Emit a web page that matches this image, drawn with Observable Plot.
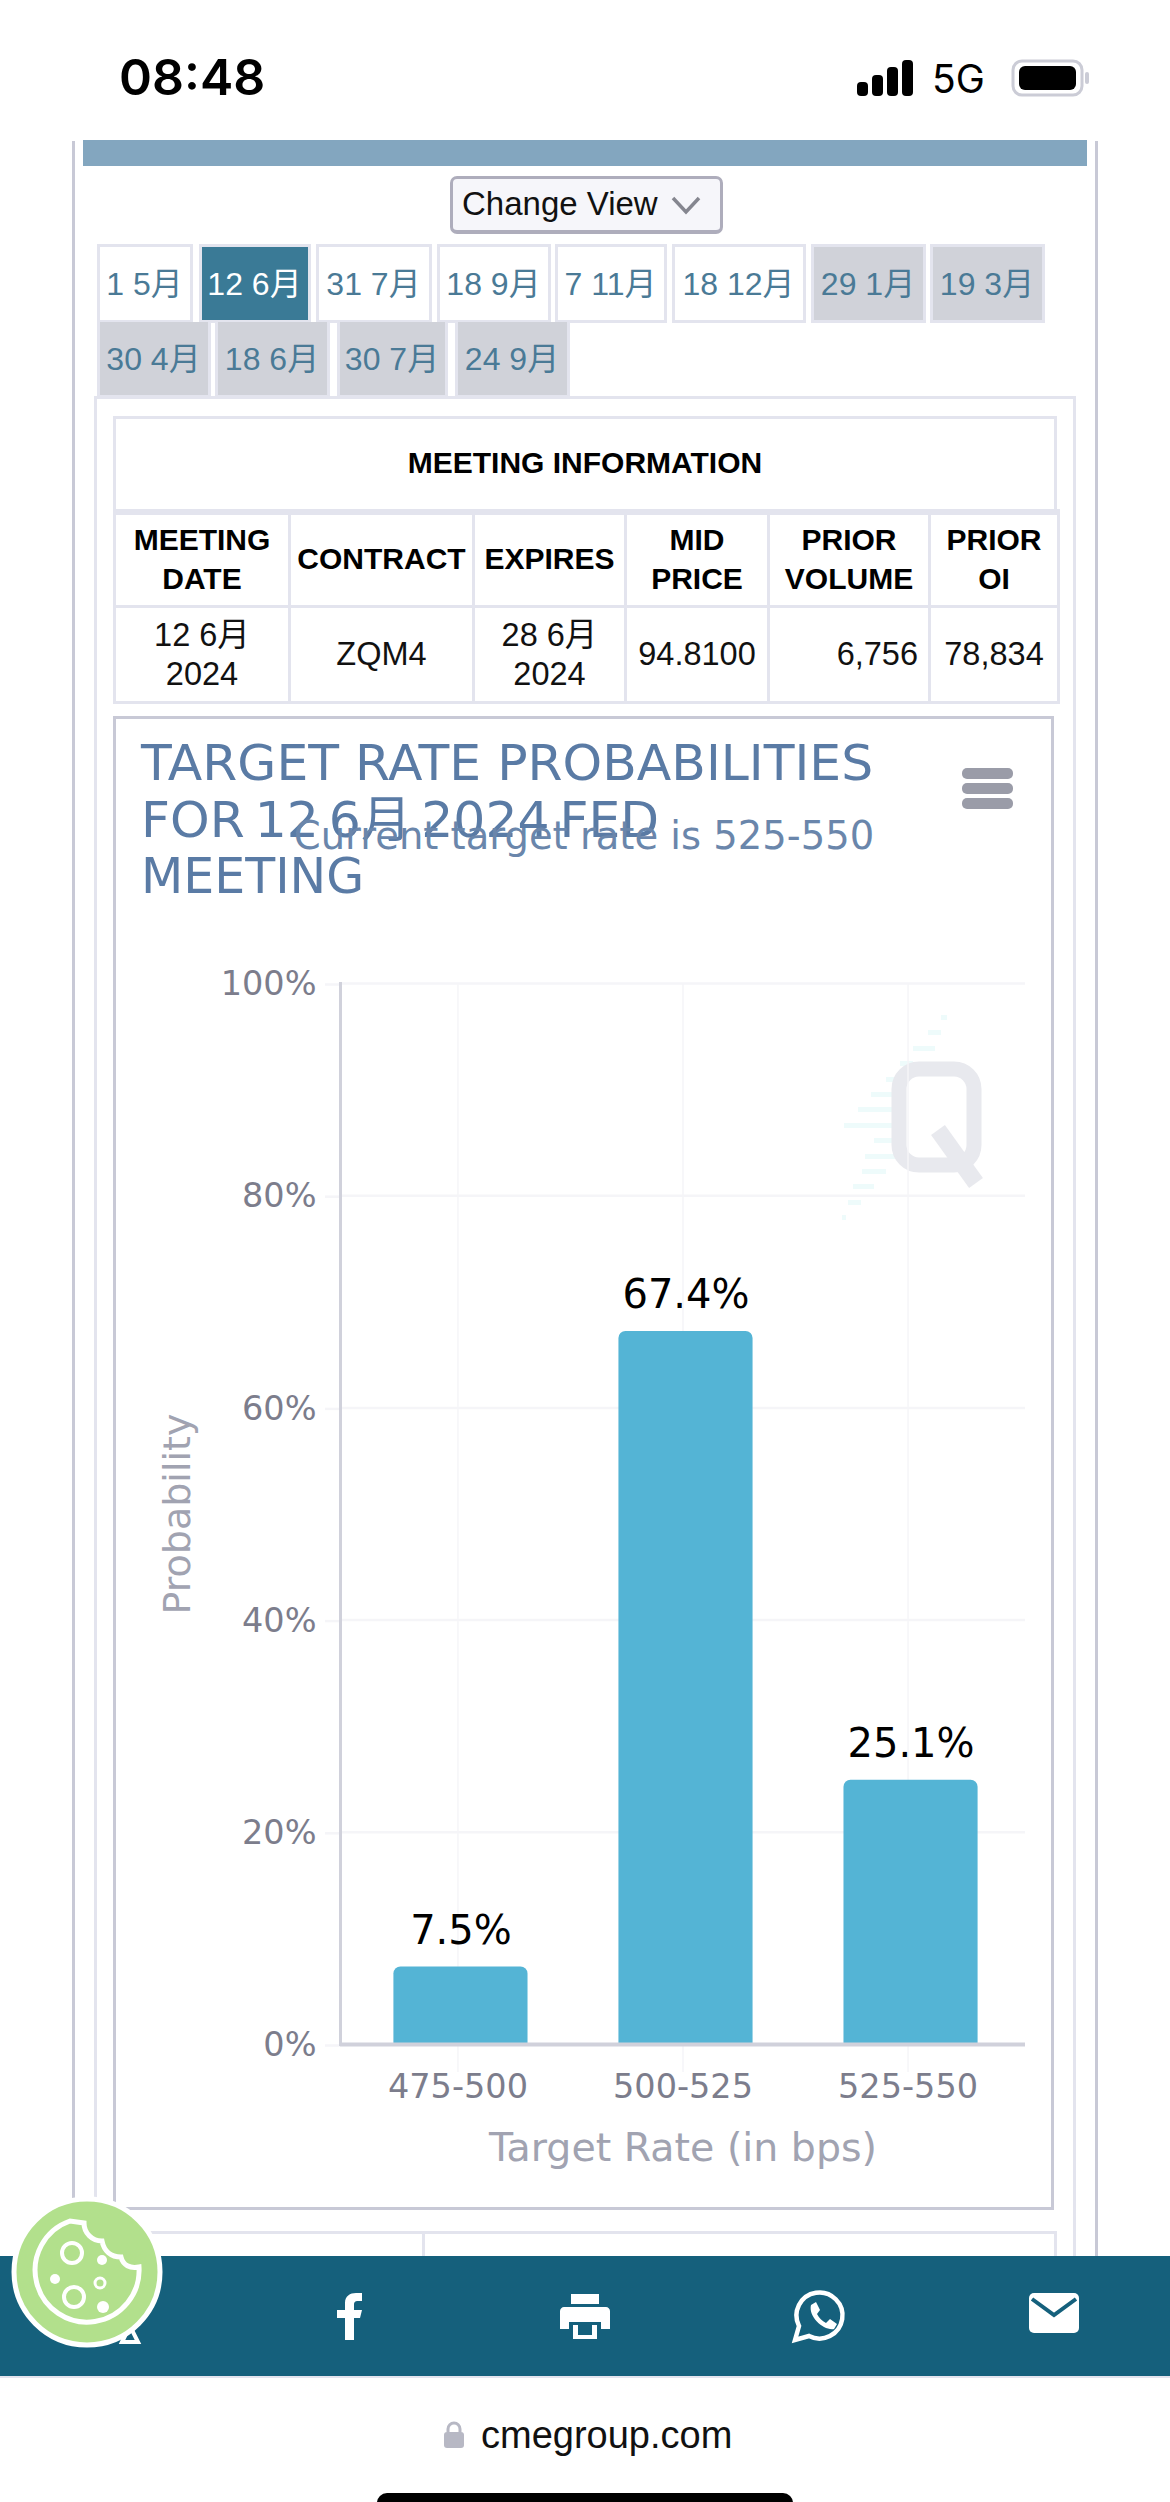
<!DOCTYPE html>
<html><head><meta charset="utf-8">
<script src="https://cdn.jsdelivr.net/npm/d3@7"></script>
<script src="https://cdn.jsdelivr.net/npm/@observablehq/plot@0.6"></script>
<style>
html,body{margin:0;padding:0;background:#fff;}
#page{position:relative;width:1170px;height:2502px;overflow:hidden;background:#fff;font-family:"Liberation Sans","Noto Sans CJK SC",sans-serif;}
.abs{position:absolute;box-sizing:border-box;}
.ctr{display:flex;align-items:center;justify-content:center;text-align:center;}
.cell{position:absolute;box-sizing:border-box;border:3px solid #e3e4ee;display:flex;align-items:center;justify-content:center;text-align:center;line-height:39px;color:#111;}
.dv{font-family:"DejaVu Sans","Noto Sans CJK SC",sans-serif;white-space:nowrap;}
</style></head><body><div id="page"></div>
<script>
// ---- chart data ----
const rates = ["475-500","500-525","525-550"];
const probabilities = [7.5,67.4,25.1];
const yTicks = [0,20,40,60,80,100];
const titleLines = ["TARGET RATE PROBABILITIES","FOR 12 6月 2024 FED","MEETING"];
const subtitle = "Current target rate is 525-550";
const xLabel = ["Target Rate (in bps)"];
const yLabel = ["Probability"];
// ---- surrounding page data ----
const tabs1 = ["1 5月","12 6月","31 7月","18 9月","7 11月","18 12月","29 1月","19 3月"];
const tabs2 = ["30 4月","18 6月","30 7月","24 9月"];
const tabHead = ["MEETING<br>DATE","CONTRACT","EXPIRES","MID<br>PRICE","PRIOR<br>VOLUME","PRIOR<br>OI"];
const tabBody = ["12 6月<br>2024","ZQM4","28 6月<br>2024","94.8100","6,756","78,834"];

const page = document.getElementById("page");
function box(l,t,w,h,css,html,cls){
  const d=document.createElement("div");d.className=(cls||"abs");
  d.style.cssText=`left:${l}px;top:${t}px;width:${w}px;height:${h}px;`+(css||"");
  if(html!==undefined)d.innerHTML=html;page.appendChild(d);return d;
}
function svgBox(l,t,w,h,inner){
  const d=box(l,t,w,h,"");
  d.innerHTML=`<svg width="${w}" height="${h}" viewBox="0 0 ${w} ${h}" style="display:block">${inner}</svg>`;return d;
}
// status bar
box(119,48,160,58,"font:600 50px Inter;color:#000;line-height:58px;white-space:nowrap;","08:48");
svgBox(855,58,62,40,`<rect x="2" y="24" width="11" height="14" rx="4"/><rect x="17" y="17" width="11" height="21" rx="4"/><rect x="32" y="9" width="11" height="29" rx="4"/><rect x="47" y="2" width="11" height="36" rx="4"/>`);
box(932,56,60,46,"font:400 39px Inter;line-height:46px;color:#000;white-space:nowrap;","5G");
svgBox(1010,58,84,40,`<rect x="3" y="3" width="69" height="34" rx="9" fill="#fff" stroke="#cbccd6" stroke-width="3"/><rect x="9" y="8" width="57" height="24" rx="6" fill="#000"/><rect x="75" y="14" width="4" height="12" rx="2" fill="#cbccd6"/>`);
// frame
box(72,141,3,2115,"background:#c8c9d6;");
box(1095,141,3,2115,"background:#c8c9d6;");
box(83,140,1004,26,"background:#83a6bf;");
// change view
box(450,176,273,58,"background:#f6f6fa;border:3px solid #aeadbc;border-bottom-width:4px;border-radius:7px;");
box(462,176,210,58,"font-size:33px;line-height:56px;color:#111;white-space:nowrap;","Change View");
svgBox(670,192,32,28,`<path d="M3 6 L16 20 L29 6" fill="none" stroke="#85868f" stroke-width="3.5"/>`);
// tabs
const tabX1=[[97,193],[199,311],[316,432],[437,551],[555,667],[672,806],[811,926],[930,1045]];
const tabX2=[[97,211],[215,330],[337,448],[455,570]];
tabs1.forEach((t,i)=>{
  const [a,b]=tabX1[i];const active=i==1,gray=i>=6;
  box(a,244,b-a,79,`border:3px solid #e3e4ee;padding:0 1px 5px 0;background:${active?"#3a7a96":gray?"#d0d2d9":"#fff"};color:${active?"#fff":"#4a7a96"};font-size:32px;white-space:nowrap;`,t,"abs ctr");
});
tabs2.forEach((t,i)=>{
  const [a,b]=tabX2[i];
  box(a,322,b-a,76,`border:3px solid #e3e4ee;border-top:0;padding:0 1px 5px 0;background:#d0d2d9;color:#4a7a96;font-size:32px;white-space:nowrap;`,t,"abs ctr");
});
// panel
box(94,396,982,1900,"border:3px solid #e3e4ee;background:#fff;");
// table
const colX=[113,288,472,624,767,928,1057], rowY=[416,512,608,704];
box(113,416,944,99,"font-weight:700;font-size:30px;color:#000;padding-bottom:6px;","MEETING INFORMATION","cell");
tabHead.forEach((t,i)=>box(colX[i],rowY[1]-3,colX[i+1]-colX[i]+3,99,"font-weight:700;font-size:30px;color:#000;",t,"cell"));
tabBody.forEach((t,i)=>{
  box(colX[i],rowY[2]-3,colX[i+1]-colX[i]+3,99,"font-size:32.5px;"+(i==4?"justify-content:flex-end;padding-right:10px;":""),t,"cell");
});
// chart box
box(113,716,941,1494,"border:3px solid #c8c9d6;background:#fff;");
// second table top
box(113,2231,944,60,"border:3px solid #e3e4ee;");
box(422,2231,3,40,"background:#e3e4ee;");
// watermark
const wmRows=[[941,947,1017],[928,941,1032],[913,935,1048],[900,913,1063],[886,898,1079],[871,895,1094],[858,895,1109],[844,895,1125],[874,895,1140],[865,895,1156],[862,886,1171],[853,874,1186],[848,861,1202],[842,846,1217]];
svgBox(830,1005,180,225,wmRows.map(r=>`<rect x="${r[0]-830}" y="${r[2]-1005-2}" width="${r[1]-r[0]}" height="5" fill="#eefbfb"/>`).join("")+
 `<rect x="69" y="64" width="75" height="96" rx="20" fill="none" stroke="#e8e9ee" stroke-width="15"/><path d="M108 125 L146 178" stroke="#e8e9ee" stroke-width="17" fill="none"/>`);
// chart
const data = rates.map((r,i)=>({rate:r,p:probabilities[i]}));
const axisColor="#d0d1db", gridColor="#f5f5f8", tickText="#7c7d8c", labelText="#a1a3b1";
const chart = Plot.plot({
  width:1170,height:1260,
  marginLeft:340,marginRight:145,marginTop:43,marginBottom:156,
  style:{background:"transparent",fontFamily:"DejaVu Sans"},
  x:{type:"band",domain:rates,paddingInner:0.404,paddingOuter:0.224,round:false,label:null},
  y:{domain:[0,100],label:null},
  marks:[
    Plot.gridY(yTicks,{stroke:gridColor,strokeOpacity:1,strokeWidth:2.5}),
    Plot.gridX(rates,{stroke:gridColor,strokeOpacity:1,strokeWidth:1.5}),
    Plot.axisY({ticks:yTicks,tickFormat:d=>d+"%",tickSize:15,tickPadding:9,stroke:gridColor,strokeOpacity:1,strokeWidth:2.5,fill:tickText,fontSize:33.5,dy:1,label:null}),
    Plot.axisX({tickSize:28,tickPadding:2,stroke:gridColor,strokeOpacity:1,strokeWidth:1.5,fill:tickText,fontSize:33.5,label:null}),
    Plot.barY(data,{x:"rate",y:"p",fill:"#54b4d5",dx:3,insetTop:2,ry1:7}),
    Plot.frame({anchor:"left",stroke:axisColor,strokeWidth:3}),
    Plot.ruleY([0],{stroke:axisColor,strokeWidth:4}),
    Plot.text(data,{x:"rate",y:"p",text:d=>d.p.toFixed(1)+"%",dx:3,dy:-34,fill:"#000",fontSize:40}),
    Plot.text(xLabel,{frameAnchor:"bottom",dy:116,fill:labelText,fontSize:39.5}),
    Plot.text(yLabel,{frameAnchor:"left",textAnchor:"middle",dx:-163,rotate:-90,fill:labelText,fontSize:38})
  ]
});
chart.style.cssText+=";position:absolute;left:0;top:940px;overflow:visible;";
page.appendChild(chart);
// title (above the svg)
titleLines.forEach((t,i)=>box(141,763-30+i*56.8,860,60,`font-size:50.4px;line-height:60px;color:#5a7ba5;${i==1?"word-spacing:-6px;":""}${i==2?"font-size:49px;":""}`,t,"abs dv"));
box(234,836-30,700,60,"font-size:38.5px;line-height:60px;color:#6a86ab;text-align:center;",subtitle,"abs dv");
[768,783,798].forEach(y=>box(962,y,51,11,"background:#9a9ca8;border-radius:5px;"));
// bottom bar
box(0,2256,1170,122,"background:#15607c;border-bottom:2px solid #e3e4ee;");
svgBox(323,2290,60,52,`<path d="M22 50 V28 H14 V20 H22 V13 C22 6 27 3 33 3 H39 V11 H35 C32 11 31 12 31 15 V20 H39 L37 28 H31 V50 Z" fill="#fff"/>`);
svgBox(560,2292,50,48,`<path d="M11 2 H39 V12 H11 Z M4 15 H46 C48 15 50 17 50 19 V37 H41 V30 H9 V37 H0 V19 C0 17 2 15 4 15 Z M13 33 H37 V47 H13 Z" fill="#fff"/><rect x="18" y="33" width="14" height="10" fill="#15607c"/>`);
svgBox(791,2288,60,56,`<path d="M4 52 L8 38 A23 23 0 1 1 18 48 Z" fill="none" stroke="#fff" stroke-width="4.5"/><path d="M20 17 L25 14 L29 22 L26 26 C28 30 31 33 35 35 L39 31 L46 36 L43 41 C33 43 17 29 20 17 Z" fill="#fff"/>`);
svgBox(1028,2292,52,44,`<rect x="1" y="1" width="50" height="40" rx="5" fill="#fff"/><path d="M4 7 L26 23 L48 7" fill="none" stroke="#15607c" stroke-width="4"/>`);
svgBox(118,2322,24,24,`<path d="M4 20 L12 4 L20 20 Z" fill="none" stroke="#fff" stroke-width="4"/>`);
// cookie
svgBox(10,2195,156,156,`<circle cx="77" cy="77" r="73" fill="#b2e08c" stroke="#fff" stroke-width="5"/>
<path d="M60 26 A52 52 0 1 0 129 72 C120 74 113 70 111 62 C101 62 94 56 92 46 C82 46 74 38 74 28 Z" fill="none" stroke="#fff" stroke-width="5"/>
<circle cx="62" cy="58" r="10" fill="none" stroke="#fff" stroke-width="4"/><circle cx="64" cy="102" r="10" fill="none" stroke="#fff" stroke-width="4"/>
<circle cx="92" cy="65" r="5" fill="#fff"/><circle cx="45" cy="84" r="5" fill="#fff"/><circle cx="90" cy="88" r="5" fill="none" stroke="#fff" stroke-width="3"/><circle cx="93" cy="112" r="6" fill="#fff"/>`);
// url
svgBox(442,2420,24,30,`<path d="M6 12 V9 A6 6 0 0 1 18 9 V12" fill="none" stroke="#b7b8c4" stroke-width="3"/><rect x="2" y="12" width="20" height="16" rx="3" fill="#b7b8c4"/>`);
box(481,2411,300,48,"font-size:38px;line-height:48px;color:#111;white-space:nowrap;","cmegroup.com");
box(377,2493,416,20,"background:#000;border-radius:10px;");
</script></body></html>
